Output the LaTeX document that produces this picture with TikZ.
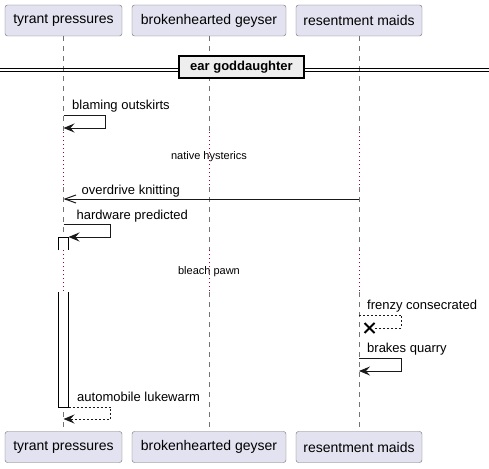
\documentclass[tikz,border=0pt]{standalone}
\usepackage{fontspec}
\setmainfont{Liberation Sans}
\usetikzlibrary{arrows.meta}
\definecolor{partfill}{RGB}{226,226,240}
\definecolor{partline}{RGB}{110,110,110}
\definecolor{delayred}{RGB}{168,0,54}
\definecolor{divfill}{RGB}{238,238,238}

\begin{document}
\begin{tikzpicture}[x=1pt,y=-1pt]

\tikzset{
part/.style={draw=partline,fill=partfill,rounded corners=2.5pt,minimum height=31pt,inner sep=0pt,font={\fontsize{14pt}{16pt}\selectfont}},
lifeline/.style={draw=black!55,line width=0.6pt,dash pattern=on 5pt off 5pt},
delayline/.style={draw=delayred,line width=0.8pt,dash pattern=on 1pt off 3pt},
msg/.style={draw=black!90,line width=1pt,-{Stealth[length=11pt,width=9pt,inset=4pt]}},
async/.style={draw=black!90,line width=1pt,-{Straight Barb[length=11pt,width=8pt]}},
reply/.style={msg,dash pattern=on 2pt off 2pt},
msgtext/.style={anchor=base west,inner sep=0pt,font={\fontsize{13pt}{15pt}\selectfont}},
delaytext/.style={inner sep=0pt,font={\fontsize{11pt}{13pt}\selectfont}},
divbox/.style={draw=black,fill=divfill,line width=1.5pt,minimum width=125pt,minimum height=22pt,inner sep=0pt,font={\fontsize{13pt}{15pt}\selectfont\bfseries}},
activ/.style={draw=black,fill=white,line width=1pt}
}
\useasboundingbox (0,0) rectangle (489,468);

% participants
\node[part,minimum width=117pt] (tp-top) at (63.5,20.5)  {tyrant pressures};
\node[part,minimum width=154pt] (bg-top) at (209,20.5)   {brokenhearted geyser};
\node[part,minimum width=126pt] (rm-top) at (359,20.5)   {resentment maids};
\node[part,minimum width=117pt] (tp-bot) at (63.5,447)   {tyrant pressures};
\node[part,minimum width=154pt] (bg-bot) at (209,447)    {brokenhearted geyser};
\node[part,minimum width=126pt] (rm-bot) at (359,447)    {resentment maids};

% delays
\coordinate (d1top) at (0,132);
\coordinate (d1bot) at (0,187);
\coordinate (d2top) at (0,250);
\coordinate (d2bot) at (0,292);

% lifelines
\foreach \p in {tp,bg,rm} {
  \draw[lifeline]  (\p-top.south) -- (\p-top.south |- d1top);
  \draw[delayline] (\p-top.south |- d1top) -- (\p-top.south |- d1bot);
  \draw[lifeline]  (\p-top.south |- d1bot) -- (\p-top.south |- d2top);
  \draw[delayline] (\p-top.south |- d2top) -- (\p-top.south |- d2bot);
  \draw[lifeline]  (\p-top.south |- d2bot) -- (\p-bot.north);
}

% divider
\draw[line width=1pt] (0,69) -- (489,69);
\draw[line width=1pt] (0,72) -- (489,72);
\node[divbox] (div) at (241.5,67) {ear goddaughter};

% activation
\filldraw[activ] (58.5,250) -- (58.5,237) -- (68.5,237) -- (68.5,250);
\filldraw[activ] (58.5,292) -- (58.5,407) -- (68.5,407) -- (68.5,292);

% messages
\coordinate (bo1) at (63.5,115);
\coordinate (bo2) at (63.5,128);
\draw[msg] (bo1) -- (105.7,115) |- (bo2);
\node[msgtext] (bo-t) at (72,109.5) {blaming outskirts};

\node[delaytext] (nh) at (209,157) {native hysterics};

\coordinate (ok1) at (359,199);
\coordinate (ok2) at (63.5,199);
\draw[async] (ok1) -- (ok2);
\node[msgtext] (ok-t) at (81.5,194) {overdrive knitting};

\coordinate (hp1) at (63.5,224);
\coordinate (hp2) at (68.5,237);
\draw[msg] (hp1) -- (110.7,224) |- (hp2);
\node[msgtext] (hp-t) at (76.5,219.5) {hardware predicted};

\node[delaytext] (bp) at (209,272) {bleach pawn};

\coordinate (fc1) at (359,315);
\coordinate (fc2) at (369.5,328);
\draw[draw=black!90,line width=1pt,dash pattern=on 2pt off 2pt] (fc1) -- (401.7,315) |- ([xshift=5pt]fc2);
\draw[line width=2pt] ([shift={(-5pt,-5pt)}]fc2) -- ([shift={(5pt,5pt)}]fc2);
\draw[line width=2pt] ([shift={(-5pt,5pt)}]fc2) -- ([shift={(5pt,-5pt)}]fc2);
\node[msgtext] (fc-t) at (367,309.5) {frenzy consecrated};

\coordinate (bq1) at (359,358);
\coordinate (bq2) at (359,371);
\draw[msg] (bq1) -- (401.7,358) |- (bq2);
\node[msgtext] (bq-t) at (367,352.5) {brakes quarry};

\coordinate (al1) at (68.5,407);
\coordinate (al2) at (63.5,419);
\draw[reply] (al1) -- (110.7,407) |- (al2);
\node[msgtext] (al-t) at (77,401.5) {automobile lukewarm};

\end{tikzpicture}
\end{document}
